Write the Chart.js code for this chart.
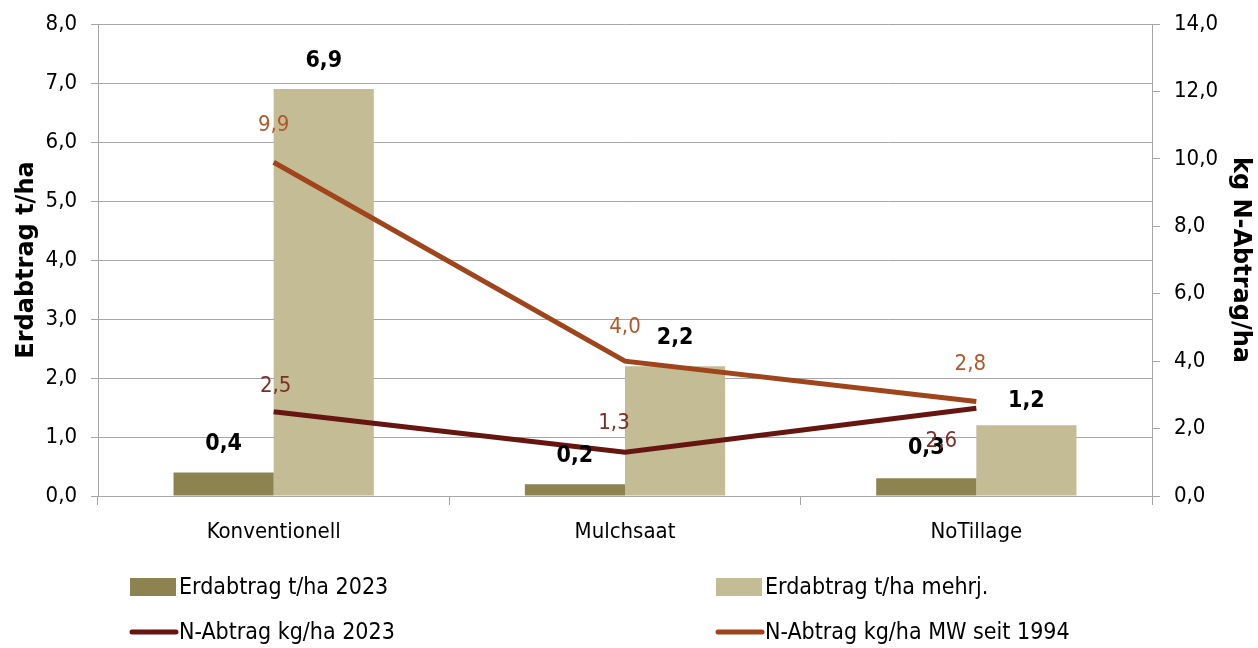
<!DOCTYPE html>
<html>
<head>
<meta charset="utf-8">
<script src="https://cdn.jsdelivr.net/npm/chart.js@4.4.1/dist/chart.umd.min.js"></script>
<style>
  html, body { margin:0; padding:0; background:#fff; }
  #wrap { width:1258px; height:648px; }
</style>
</head>
<body>
<div id="wrap"><canvas id="erosionChart" width="1258" height="648"></canvas></div>
<script>
var categories   = ['Konventionell', 'Mulchsaat', 'NoTillage'];
var erd2023      = [0.4, 0.2, 0.3];
var erdMehrj     = [6.9, 2.2, 1.2];
var nAbtrag2023  = [2.5, 1.3, 2.6];
var nAbtragMW    = [9.9, 4.0, 2.8];

var FONT = "'DejaVu Sans Condensed', 'DejaVu Sans', sans-serif";
var TITLEFONT = "'DejaVu Sans', sans-serif";
var grey = '#A6A6A6';

function fmt(v){ return v.toFixed(1).replace('.', ','); }

// label offsets (dx, dy) relative to bar top / line point
var labelPos = {
  0: [[0,-28],[0,-28],[0,-30]],
  1: [[0,-28],[0,-28],[0,-24]],
  2: [[2,-25],[-11,-29],[-35,33]],
  3: [[0,-37],[0,-34],[-6,-37]]
};

//data labels
var labelsPlugin = {
  id:'valueLabels',
  afterDatasetsDraw: function(chart){
    var ctx = chart.ctx;
    chart.data.datasets.forEach(function(ds, i){
      var meta = chart.getDatasetMeta(i);
      meta.data.forEach(function(el, j){
        var off = labelPos[i][j];
        ctx.save();
        ctx.font = (ds.type === 'bar' ? 'bold 23px ' : '22px ') + FONT;
        ctx.fillStyle = ds.labelColor;
        ctx.textAlign = 'center';
        ctx.textBaseline = 'middle';
        ctx.fillText(fmt(ds.data[j]), el.x + off[0], el.y + off[1]);
        ctx.restore();
      });
    });
  }
};

//legend
var legendPlugin = {
  id:'gridLegend',
  afterDraw: function(chart){
    var ctx = chart.ctx;
    var spots = [[130,587],[716,587],[130,632],[716,632]];
    chart.data.datasets.forEach(function(ds, i){
      var x = spots[i][0], y = spots[i][1];
      ctx.save();
      if (ds.type === 'bar') {
        ctx.fillStyle = ds.backgroundColor;
        ctx.fillRect(x, y - 9, 46, 18);
      } else {
        ctx.strokeStyle = ds.borderColor;
        ctx.lineWidth = 5;
        ctx.lineCap = 'round';
        ctx.beginPath(); ctx.moveTo(x + 2, y); ctx.lineTo(x + 46, y); ctx.stroke();
      }
      ctx.font = '23px ' + FONT;
      ctx.fillStyle = '#000';
      ctx.textBaseline = 'middle';
      ctx.fillText(ds.label, x + 49, y + 1);
      ctx.restore();
    });
  }
};

function noPad(s){ s.paddingTop = 0; s.paddingBottom = 0; }

new Chart(document.getElementById('erosionChart').getContext('2d'), {
  data: {
    labels: categories,
    datasets: [
      { type:'bar', label:'Erdabtrag t/ha 2023', data:erd2023, backgroundColor:'#8C8350', labelColor:'#000', yAxisID:'y', order:2 },
      { type:'bar', label:'Erdabtrag t/ha mehrj.', data:erdMehrj, backgroundColor:'#C4BC94', labelColor:'#000', yAxisID:'y', order:2 },
      { type:'line', label:'N-Abtrag kg/ha 2023', data:nAbtrag2023, borderColor:'#661510', labelColor:'#7E2E26', borderWidth:5, pointRadius:0, tension:0, yAxisID:'y1', order:1 },
      { type:'line', label:'N-Abtrag kg/ha MW seit 1994', data:nAbtragMW, borderColor:'#A0441C', labelColor:'#B0592C', borderWidth:5, pointRadius:0, tension:0, yAxisID:'y1', order:1 }
    ]
  },
  options: {
    responsive:false,
    animation:false,
    layout:{ padding:{ top:24, bottom:100, left:0, right:0 } },
    datasets:{ bar:{ barPercentage:1, categoryPercentage:0.57 } },
    plugins:{ legend:{ display:false }, tooltip:{ enabled:false } },
    scales:{
      x:{
        offset:true,
        grid:{ drawOnChartArea:false, offset:true, color:grey, tickLength:9 },
        border:{ color:grey },
        ticks:{ color:'#000', font:{ family:FONT, size:22 }, padding:14 },
        afterFit:function(s){ s.height = 52; }
      },
      y:{
        position:'left', min:0, max:8,
        ticks:{ stepSize:1, color:'#000', font:{ family:FONT, size:22 }, padding:14, callback:function(v){ return fmt(v); } },
        grid:{ color:grey, tickLength:7 },
        border:{ color:grey },
        title:{ display:true, text:'Erdabtrag t/ha', color:'#000', font:{ family:TITLEFONT, size:24, weight:'bold' }, padding:{ top:12, bottom:0 } },
        afterFit:function(s){ s.width = 98; noPad(s); }
      },
      y1:{
        position:'right', min:0, max:14,
        ticks:{ stepSize:2, color:'#000', font:{ family:FONT, size:22 }, padding:14, callback:function(v){ return fmt(v); } },
        grid:{ drawOnChartArea:false, color:grey, tickLength:8 },
        border:{ color:grey },
        title:{ display:true, text:'kg N-Abtrag/ha', color:'#000', font:{ family:TITLEFONT, size:24, weight:'bold' }, padding:{ top:3, bottom:0 } },
        afterFit:function(s){ s.width = 106; noPad(s); }
      }
    }
  },
  plugins:[labelsPlugin, legendPlugin]
});
</script>
</body>
</html>
